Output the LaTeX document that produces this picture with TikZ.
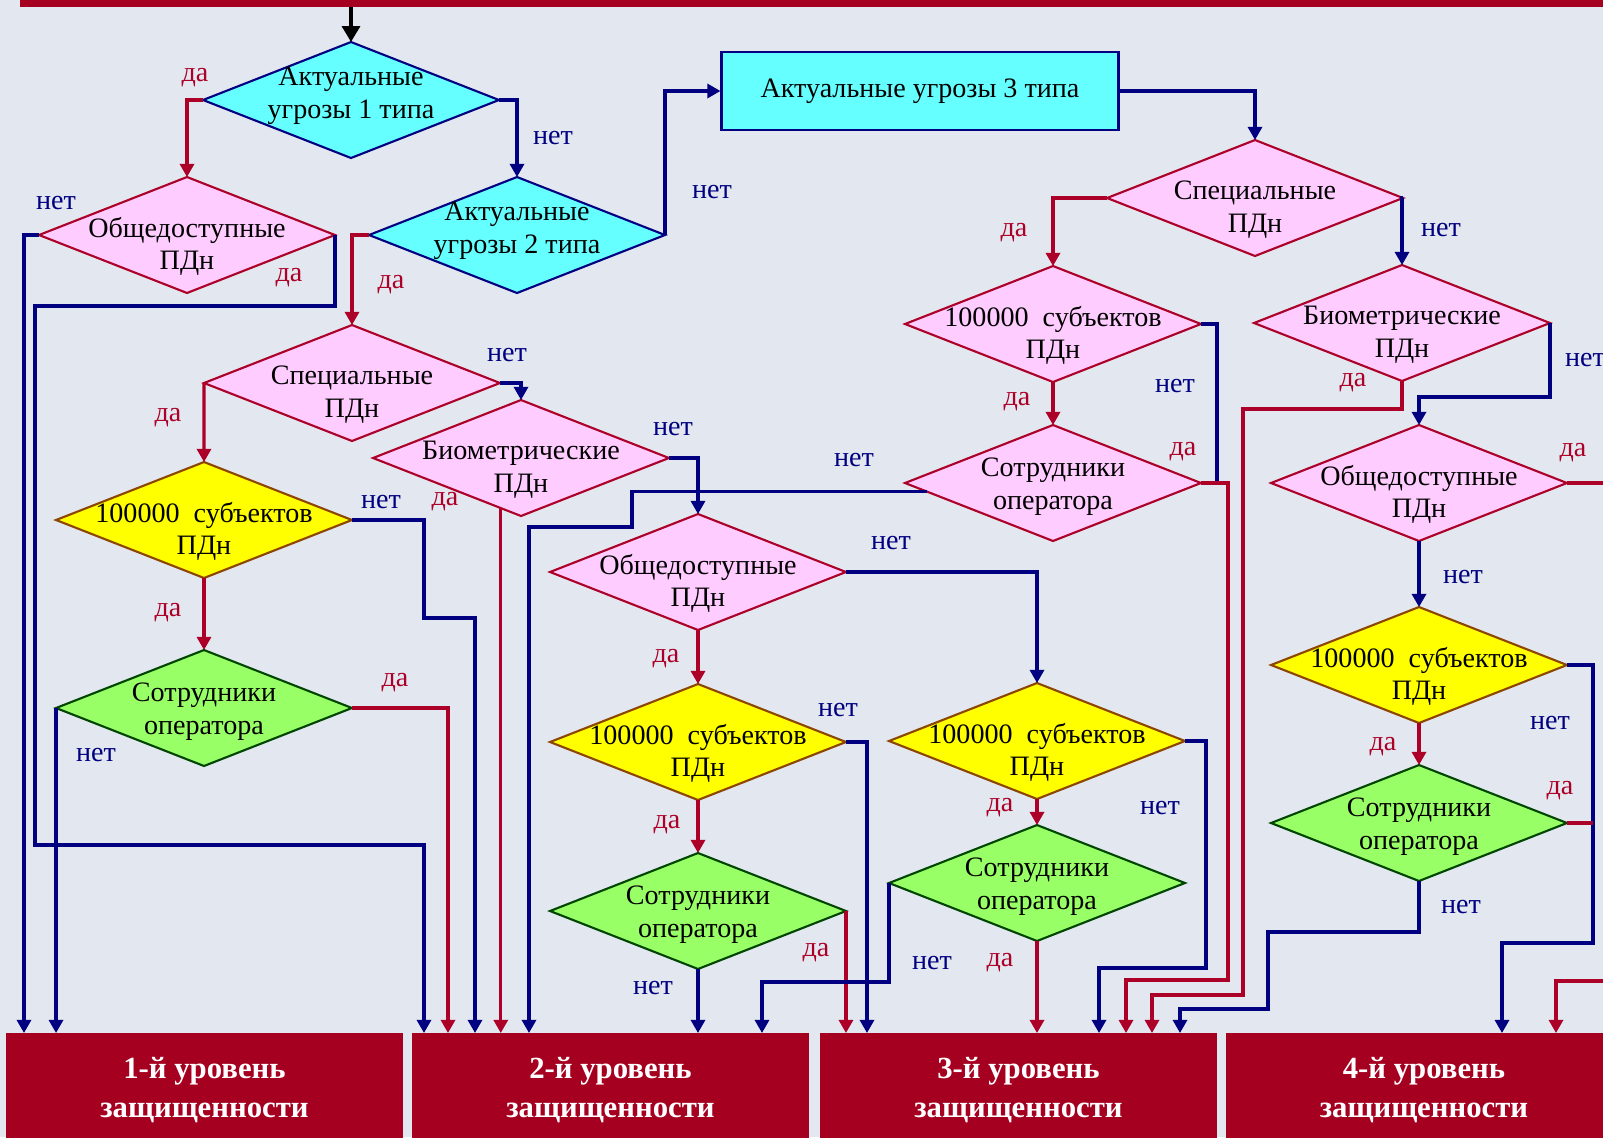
\documentclass[tikz,border=0pt]{standalone}
\usepackage{fontspec}
\setmainfont{Liberation Serif}
\usetikzlibrary{shapes.geometric,arrows.meta}
\definecolor{fon}{RGB}{227,232,240}
\definecolor{bord}{RGB}{166,0,33}
\definecolor{tmn}{RGB}{0,0,128}
\definecolor{krs}{RGB}{172,0,40}
\definecolor{goluboj}{RGB}{102,255,255}
\definecolor{rozov}{RGB}{255,204,255}
\definecolor{zhelt}{RGB}{255,255,0}
\definecolor{zelen}{RGB}{153,255,102}
\definecolor{korich}{RGB}{140,70,0}
\definecolor{tzelen}{RGB}{0,70,0}

\begin{document}
\begin{tikzpicture}[x=0.02cm,y=-0.02cm,
    romb/.style={diamond,draw,line width=1.2pt,inner sep=0pt,outer sep=0pt,minimum width=5.92cm,minimum height=2.32cm},
    tekst/.style={align=center,font=\fontsize{16}{18.7}\selectfont},
    tp/.style={tekst,yshift=-6.5pt},
    tg/.style={tekst,yshift=-2.2pt},
    tc/.style={tekst,yshift=2.2pt},
    cyanr/.style={romb,fill=goluboj,draw=tmn},
    pinkr/.style={romb,fill=rozov,draw=krs},
    yellr/.style={romb,fill=zhelt,draw=korich},
    greenr/.style={romb,fill=zelen,draw=tzelen},
    uroven/.style={fill=bord,text=white,align=center,inner sep=0pt,outer sep=0pt,minimum width=7.94cm,minimum height=2.28cm,font=\fontsize{17.5}{22}\selectfont\bfseries},
    lnda/.style={line width=1.8pt,draw=krs},
    lnnet/.style={line width=1.8pt,draw=tmn},
    daarr/.style={lnda,-{Triangle[length=7.5pt,width=8pt]}},
    netarr/.style={lnnet,-{Triangle[length=7.5pt,width=8pt]}},
    tda/.style={text=krs,inner sep=0pt,font=\fontsize{16}{18}\selectfont},
    tnet/.style={text=tmn,inner sep=0pt,font=\fontsize{16}{18}\selectfont}]
    \useasboundingbox (0,0) rectangle (1603,1137);
    \fill[fon] (0,0) rectangle (1603,1137);
    \node[fill=bord,inner sep=0pt,outer sep=0pt,minimum width=31.8cm,minimum height=0.4cm,anchor=south west] (shapka) at (20,7) {};

    \node[cyanr,label={[tc]center:Актуальные\\угрозы 1 типа}] (ug1) at (351,100) {};
    \node[pinkr,label={[tp]center:Общедоступные\\ПДн}] (obsh1) at (187,235) {};
    \node[cyanr,label={[tc]center:Актуальные\\угрозы 2 типа}] (ug2) at (517,235) {};
    \node[draw=tmn,fill=goluboj,line width=1.2pt,minimum width=7.94cm,minimum height=1.56cm,tekst] (ug3) at (920,91) {Актуальные угрозы 3 типа};
    \node[pinkr,label={[tp]center:Специальные\\ПДн}] (spec2) at (352,383) {};
    \node[pinkr,label={[tp]center:Биометрические\\ПДн}] (bio2) at (521,458) {};
    \node[yellr,label={[tp]center:100000\ \ субъектов\\ПДн}] (sto1) at (204,520) {};
    \node[greenr,label={[tg]center:Сотрудники\\оператора}] (sotr1) at (204,708) {};
    \node[pinkr,label={[tp]center:Общедоступные\\ПДн}] (obsh2) at (698,572) {};
    \node[yellr,label={[tp]center:100000\ \ субъектов\\ПДн}] (sto2) at (698,742) {};
    \node[greenr,label={[tg]center:Сотрудники\\оператора}] (sotr2) at (698,911) {};
    \node[yellr,label={[tp]center:100000\ \ субъектов\\ПДн}] (sto3) at (1037,741) {};
    \node[greenr,label={[tg]center:Сотрудники\\оператора}] (sotr3) at (1037,883) {};
    \node[pinkr,label={[tp]center:Специальные\\ПДн}] (spec3) at (1255,198) {};
    \node[pinkr,label={[tp]center:100000\ \ субъектов\\ПДн}] (sto4) at (1053,324) {};
    \node[pinkr,label={[tg]center:Сотрудники\\оператора}] (sotr4) at (1053,483) {};
    \node[pinkr,label={[tp]center:Биометрические\\ПДн}] (bio3) at (1402,323) {};
    \node[pinkr,label={[tp]center:Общедоступные\\ПДн}] (obsh3) at (1419,483) {};
    \node[yellr,label={[tp]center:100000\ \ субъектов\\ПДн}] (sto5) at (1419,665) {};
    \node[greenr,label={[tg]center:Сотрудники\\оператора}] (sotr5) at (1419,823) {};

    \node[uroven] (ur1) at (204.5,1090) {1-й уровень\\защищенности};
    \node[uroven] (ur2) at (610.5,1090) {2-й уровень\\защищенности};
    \node[uroven] (ur3) at (1018.5,1090) {3-й уровень\\защищенности};
    \node[uroven] (ur4) at (1424,1090) {4-й уровень\\защищенности};

    \draw[line width=2.4pt,-{Triangle[length=9pt,width=10pt]}] (shapka.south -| ug1.north) -- (ug1.north);
    \draw[daarr] (ug1.west) -| (obsh1.north) node[tda] (ug1da) at (195,78) {да};
    \draw[netarr] (ug1.east) -| (ug2.north) node[tnet] (ug1net) at (553,138) {нет};
    \draw[netarr] (obsh1.west) -| (24,0 |- ur1.north) node[tnet] (obsh1net) at (56,203) {нет};
    \draw[netarr] (obsh1.east) |- (35,306) |- (424,845) -- (424,0 |- ur2.north) node[tda] (obsh1da) at (289,278) {да};
    \draw[daarr] (ug2.west) -| (spec2.north) node[tda] (ug2da) at (391,285) {да};
    \draw[netarr] (ug2.east) |- (ug3.west) node[tnet] (ug2net) at (712,192) {нет};
    \draw[netarr] (ug3.east) -| (spec3.north);

    \draw[daarr] (spec2.west) -- (sto1.north) node[tda] (spec2da) at (168,418) {да};
    \draw[netarr] (spec2.east) -| (bio2.north) node[tnet] (spec2net) at (507,355) {нет};
    \draw[netarr] (bio2.east) -| (obsh2.north) node[tnet] (bio2net) at (673,429) {нет};
    \draw[daarr] (bio2.248) -- (bio2.248 |- ur2.north) node[tda] (bio2da) at (445,502) {да};
    \draw[netarr] (sto1.east) -| (424,618) -| (475,0 |- ur2.north) node[tnet] (sto1net) at (381,502) {нет};
    \draw[daarr] (sto1.south) -- (sotr1.north) node[tda] (sto1da) at (168,613) {да};
    \draw[daarr] (sotr1.east) -| (448,0 |- ur2.north) node[tda] (sotr1da) at (395,683) {да};
    \draw[netarr] (sotr1.west) -- (sotr1.west |- ur1.north) node[tnet] (sotr1net) at (96,755) {нет};

    \draw[daarr] (obsh2.south) -- (sto2.north) node[tda] (obsh2da) at (666,659) {да};
    \draw[netarr] (obsh2.east) -| (sto3.north) node[tnet] (obsh2net) at (891,543) {нет};
    \draw[netarr] (sto2.east) -| (867,0 |- ur3.north) node[tnet] (sto2net) at (838,710) {нет};
    \draw[daarr] (sto2.south) -- (sotr2.north) node[tda] (sto2da) at (667,825) {да};
    \draw[daarr] (sotr2.east) -- (sotr2.east |- ur3.north) node[tda] (sotr2da) at (816,953) {да};
    \draw[netarr] (sotr2.south) -- (sotr2.south |- ur2.north) node[tnet] (sotr2net) at (653,988) {нет};
    \draw[daarr] (sto3.south) -- (sotr3.north) node[tda] (sto3da) at (1000,808) {да};
    \draw[netarr] (sto3.east) -| (1206,968) -| (1099,0 |- ur3.north) node[tnet] (sto3net) at (1160,808) {нет};
    \draw[daarr] (sotr3.south) -- (sotr3.south |- ur3.north) node[tda] (sotr3da) at (1000,963) {да};
    \draw[netarr] (sotr3.west) |- (762,982) -- (762,0 |- ur2.north) node[tnet] (sotr3net) at (932,963) {нет};

    \draw[daarr] (spec3.west) -| (sto4.north) node[tda] (spec3da) at (1014,233) {да};
    \draw[netarr] (spec3.east) -| (bio3.north) node[tnet] (spec3net) at (1441,230) {нет};
    \draw[daarr] (sto4.south) -- (sotr4.north) node[tda] (sto4da) at (1017,402) {да};
    \draw[lnnet] (sto4.east) -| (1217,0 |- sotr4.east) node[tnet] (sto4net) at (1175,386) {нет};
    \draw[daarr] (sotr4.east) -| (1228,980) -| (1126,0 |- ur3.north) node[tda] (sotr4da) at (1183,452) {да};
    \draw[netarr] (sotr4.184) -| (632,527) -| (529,0 |- ur2.north) node[tnet] (sotr4net) at (854,460) {нет};
    \draw[netarr] (bio3.east) |- (obsh3.north |- 0,397) -- (obsh3.north) node[tnet] (bio3net) at (1585,360) {нет};
    \draw[daarr] (bio3.south) |- (1243,409) |- (1152,995) -- (1152,0 |- ur3.north) node[tda] (bio3da) at (1353,383) {да};
    \draw[daarr] (obsh3.east) -| (1615,981) -| (1556,0 |- ur4.north) node[tda] (obsh3da) at (1573,453) {да};
    \draw[netarr] (obsh3.south) -- (sto5.north) node[tnet] (obsh3net) at (1463,577) {нет};
    \draw[netarr] (sto5.east) -| (1593,943) -| (1502,0 |- ur4.north) node[tnet] (sto5net) at (1550,723) {нет};
    \draw[daarr] (sto5.south) -- (sotr5.north) node[tda] (sto5da) at (1383,747) {да};
    \draw[lnda] (sotr5.east) -- (1593,0 |- sotr5.east) node[tda] (sotr5da) at (1560,791) {да};
    \draw[netarr] (sotr5.south) |- (1268,932) |- (1180,1009) -- (1180,0 |- ur3.north) node[tnet] (sotr5net) at (1461,907) {нет};
\end{tikzpicture}
\end{document}
